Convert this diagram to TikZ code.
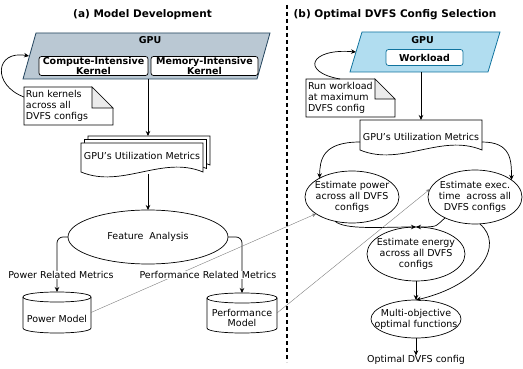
\documentclass[tikz,border=0pt]{standalone}
\usepackage{fontspec}
\setmainfont{DejaVu Sans}
\usetikzlibrary{arrows.meta,shapes.geometric}
\definecolor{gpuAfill}{HTML}{BAC8D3}
\definecolor{gpuAline}{HTML}{23445D}
\definecolor{gpuBfill}{HTML}{B1DDF0}
\definecolor{gpuBline}{HTML}{10739E}
\definecolor{foldgray}{HTML}{EBEBEB}
\begin{document}
\begin{tikzpicture}[x=1pt,y=-1pt,
  every node/.style={font=\fontsize{9.5}{10.8}\selectfont, inner sep=0pt, outer sep=0pt},
  bfnode/.style={font=\fontsize{9.5}{10.8}\selectfont\bfseries},
  titlenode/.style={font=\fontsize{10.5}{12}\selectfont\bfseries},
  arr/.style={draw=black, line width=0.7pt, -{Stealth[length=5pt,width=4.5pt]}},
  faint/.style={draw=black!55, line width=0.35pt, -{Stealth[length=4pt,width=3.5pt]}},
  shapeline/.style={draw=black, line width=0.7pt},
  ellnode/.style={ellipse, shapeline, fill=white},
  kbox/.style={shapeline, fill=white, rounded corners=2.5pt, align=center, font=\fontsize{9.5}{9.5}\selectfont\bfseries},
  notetext/.style={align=left, text width=85pt, inner xsep=2pt, minimum height=38pt},
  boxnode/.style={draw=none},
  edgelabel/.style={fill=white, inner sep=0.6pt},
]
\useasboundingbox (0,0) rectangle (523,369);
\fill[white] (0,0) rectangle (523,369);

% titles
\node[titlenode] (tA) at (142.5,15) {(a) Model Development};
\node[titlenode] (tB) at (395,15) {(b) Optimal DVFS Config Selection};

% divider
\coordinate (divT) at (287,5);
\coordinate (divB) at (287,362);
\draw[line width=1.2pt, dash pattern=on 4pt off 3pt] (divT) -- (divB);

% ---------- left side ----------
\draw[fill=gpuAfill, draw=gpuAline, line width=0.8pt] (36,33) -- (270,33) -- (257,79) -- (23,79) -- cycle;
\node[bfnode] (gpuA) at (150,40.5) {GPU};
\node[kbox, minimum width=109pt, minimum height=19pt] (ck) at (93.5,66) {Compute-Intensive\\Kernel};
\node[kbox, minimum width=107pt, minimum height=19pt] (mk) at (204.5,66) {Memory-Intensive\\Kernel};
\coordinate (gpuAin) at (29,56);
\coordinate (gpuAout) at (148,79);

% note A
\draw[shapeline] (24,87) -- (92,87) -- (113,108) -- (113,125) -- (24,125) -- cycle;
\filldraw[fill=foldgray, shapeline] (92,87) -- (92,108) -- (113,108) -- cycle;
\node[notetext] (noteA) at (68.5,106) {Run kernels\\across all\\DVFS configs};
\draw[arr] ([yshift=-10pt]noteA.north west) .. controls (-8,85) and (-5,50) .. (gpuAin);

% multi document
\draw[shapeline, fill=white] (88,136) -- (210,136) -- (210,165) .. controls (169.3,148) and (128.7,182) .. (88,165) -- cycle;
\draw[shapeline, fill=white] (84.5,139.5) -- (206.5,139.5) -- (206.5,168.5) .. controls (165.8,151.5) and (125.2,185.5) .. (84.5,168.5) -- cycle;
\draw[shapeline, fill=white] (81,143) -- (203,143) -- (203,172) .. controls (162.3,155) and (121.7,189) .. (81,172) -- cycle;
\node (docA) at (142,156) {GPU's Utilization Metrics};
\coordinate (docAin) at (148,136);
\coordinate (docAout) at (148,174);
\draw[arr] (gpuAout) -- (docAin);

% feature analysis
\node[ellnode, minimum width=160pt, minimum height=54pt] (fa) at (148,237) {};
\node (faT) at (fa.center) {Feature\ \ Analysis};
\draw[arr] (docAout) -- (fa.north);

% cylinders
\draw[shapeline, fill=white] (23,297) -- (23,328) .. controls (23,334.67) and (91,334.67) .. (91,328) -- (91,297) .. controls (91,290.33) and (23,290.33) .. cycle;
\draw[shapeline] (23,297) .. controls (23,303.67) and (91,303.67) .. (91,297);
\node[boxnode, minimum width=68pt, minimum height=41pt] (pm) at (57,312.5) {};
\node (pmT) at (57,319) {Power Model};

\draw[shapeline, fill=white] (207,298) -- (207,328) .. controls (207,334.67) and (277,334.67) .. (277,328) -- (277,298) .. controls (277,291.33) and (207,291.33) .. cycle;
\draw[shapeline] (207,298) .. controls (207,304.67) and (277,304.67) .. (277,298);
\node[boxnode, minimum width=70pt, minimum height=40pt] (perf) at (242,313) {};
\node[align=center] (perfT) at (242,318) {Performance\\Model};

\draw[arr, rounded corners=6pt] (fa.west) -| (pm.north);
\draw[arr, rounded corners=6pt] (fa.east) -| (perf.north);

% ---------- right side ----------
\draw[fill=gpuBfill, draw=gpuBline, line width=0.8pt] (362,32) -- (500,32) -- (488,72) -- (350,72) -- cycle;
\node[bfnode] (gpuB) at (422.5,40) {GPU};
\node[kbox, draw=gpuBline, minimum width=77pt, minimum height=16pt] (wl) at (424.5,57.5) {Workload};
\coordinate (gpuBin) at (356,52);
\coordinate (gpuBout) at (421,72);

% note B
\draw[shapeline] (306,79) -- (375,79) -- (395,99) -- (395,117) -- (306,117) -- cycle;
\filldraw[fill=foldgray, shapeline] (375,79) -- (375,99) -- (395,99) -- cycle;
\node[notetext] (noteB) at (350.5,98) {Run workload\\at maximum\\DVFS config};
\draw[arr] ([xshift=34pt]noteB.north west) .. controls (300,72) and (310,48) .. (gpuBin);

% document B
\draw[shapeline, fill=white] (360,120) -- (482,120) -- (482,150) .. controls (441.3,133) and (400.7,167) .. (360,150) -- cycle;
\node[boxnode, minimum width=122pt, minimum height=30pt] (docB) at (421,135) {};
\node (docBT) at (421,137) {GPU's Utilization Metrics};
\draw[arr] (gpuBout) -- (docB.north);

% estimate nodes
\node[ellnode, minimum width=94pt, minimum height=52pt] (pe) at (352,197) {};
\node[align=center] (peT) at (pe.center) {Estimate power\\across all DVFS\\configs};
\node[ellnode, minimum width=94pt, minimum height=54pt] (ex) at (475,197) {};
\node[align=center] (exT) at (ex.center) {Estimate exec.\\time\ \ across all\\DVFS configs};
\node[ellnode, minimum width=98pt, minimum height=54pt] (en) at (416,254) {};
\node[align=center] (enT) at (en.center) {Estimate energy\\across all DVFS\\configs};
\node[ellnode, minimum width=90pt, minimum height=38pt] (mo) at (416,319) {};
\node[align=center] (moT) at (mo.center) {Multi-objective\\optimal functions};
\node (opt) at (416,360) {Optimal DVFS config};

\draw[arr] ([yshift=-7pt]docB.west) .. controls (322,142) and (320,160) .. (pe.150);
\draw[arr] ([yshift=-7pt]docB.east) .. controls (511,142) and (511.5,160) .. (ex.25);
\draw[arr] (pe.235) .. controls (345,230) and (380,227) .. (en.north);
\draw[arr] (ex.215) .. controls (435,226) and (440,227) .. (en.north);
\draw[arr] (ex.280) .. controls (505,245) and (480,285) .. (mo.north);
\draw[arr] (en.south) -- (mo.north);
\draw[arr] (mo.south) -- (opt.north);

% faint cross links
\draw[faint] (pm.east) -- (pe.205);
\draw[faint] (perf.east) -- (ex.170);

% edge labels
\node[edgelabel] (lblP) at (61,275) {Power Related Metrics};
\node[edgelabel] (lblQ) at (208,275) {Performance Related Metrics};
\end{tikzpicture}
\end{document}
